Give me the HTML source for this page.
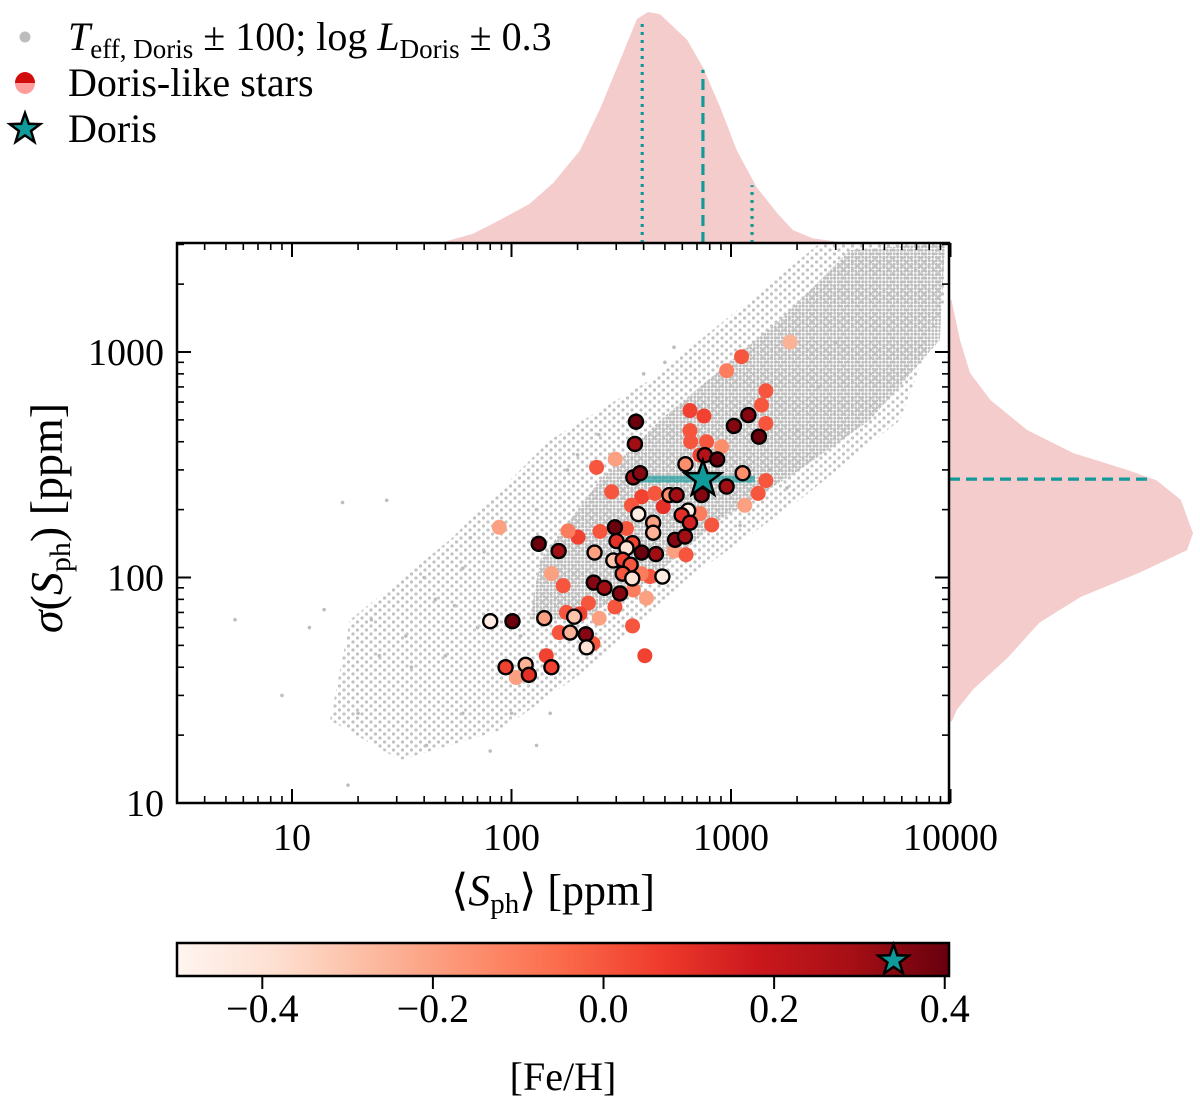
<!DOCTYPE html>
<html><head><meta charset="utf-8"><style>
html,body{margin:0;padding:0;background:#fff;}
svg{display:block;font-family:"Liberation Serif",serif;}
</style></head><body>
<svg id="fig" width="1200" height="1103" viewBox="0 0 1200 1103" xmlns="http://www.w3.org/2000/svg">
<defs>
<pattern id="dense" width="3.5" height="3.5" patternUnits="userSpaceOnUse"><circle cx="1.75" cy="1.75" r="1.45" fill="#bdbdbd"/></pattern>
<pattern id="sparse" width="9" height="8" patternUnits="userSpaceOnUse"><circle cx="2" cy="2" r="1.6" fill="#c2c2c2"/><circle cx="6.5" cy="6" r="1.6" fill="#c2c2c2"/></pattern>
<clipPath id="plotclip"><rect x="177" y="243" width="772" height="560"/></clipPath>
<linearGradient id="cbgrad" x1="0" x2="1" y1="0" y2="0"></linearGradient>
</defs>
</svg>
<script>
// ---- data ----
const likeX = [1117,955,1442,1377,1200,1031,1442,1340,650,753,369,365,650,906,655,774,760,865,620,244,297,359,385,1130,955,735,1442,1330,1156,286,392,450,524,565,352,491,378,638,596,650,817,722,442,442,296,253,334,201,181,88,133,164,239,301,356,334,392,455,556,617,551,624,291,321,349,321,355,427,390,487,152,172,237,265,312,359,412,296,224,251,356,178,205,141,193,165,185,218,220,235,80,101,94,116,152,120,144,405,105,1858,722];
const likeY = [953,826,673,582,525,470,482,421,550,520,491,391,448,380,400,400,349,334,318,308,335,278,290,290,253,232,269,236,209,240,228,236,232,232,209,206,191,198,189,175,171,192,175,158,167,160,165,151,161,167,141,131,129,145,142,135,129,127,147,152,131,126,119,120,114,104,99,101,104,101,104,92,95,90,85,88,81,74,77,66,61,70,69,66,67,57,57,56,49,51,64,64,40,41,40,37,45,45,36,1107,349];
const likeFe = [0.0,-0.1,0.0,0.0,0.35,0.35,0.0,0.4,0.05,0.05,0.4,0.3,0.0,-0.15,0.0,0.0,0.25,0.4,-0.15,0.0,-0.2,0.3,0.35,-0.15,0.3,0.35,0.0,0.0,-0.2,0.0,0.05,0.0,-0.15,0.3,0.0,0.1,-0.45,-0.45,0.1,0.15,0.0,-0.1,-0.2,-0.25,0.4,0.0,0.0,0.05,-0.1,-0.2,0.4,0.3,-0.2,0.1,0.05,-0.4,0.4,0.3,0.35,0.3,-0.2,0.0,-0.3,0.05,0.0,0.0,-0.4,0.0,-0.1,-0.45,-0.2,0.0,0.35,0.3,0.35,-0.1,-0.2,0.0,0.0,-0.2,0.0,0.0,0.05,-0.2,-0.3,0.0,-0.25,0.35,-0.4,0.0,-0.45,0.4,0.05,-0.25,0.05,0.1,0.05,0.05,-0.2,-0.25,0.05];
const likeEdge = [0,0,0,0,1,1,0,1,0,0,1,1,0,0,0,0,1,1,1,0,0,1,1,1,1,1,0,0,0,0,0,0,1,1,0,0,1,1,1,1,0,0,1,1,1,0,0,0,0,0,1,1,1,1,1,1,1,1,1,1,0,0,1,1,1,1,1,0,0,1,0,0,1,1,1,0,0,0,0,0,0,0,0,1,1,0,1,1,1,0,1,1,1,1,1,1,0,0,0,0,0];
const grayX = [5.5,9,12,14,17,20,23,27,33,41,45,60,80,90,130,18,35,50,70,40,60,55,25,100,150,75,110,130,200,250,400,500,550,1500,2000,1800,2500,3000,700,1100,180,65];
const grayY = [65,30,60,72,215,25,65,220,55,18,80,25,17,40,18,12,40,45,60,100,110,75,45,25,25,130,55,200,350,430,800,900,1050,300,450,250,700,1100,180,170,300,150];
const outerEnvX = [18.4,52.5,150,428,1222,2541,9440,9440,5890,2061,722,253,89,31,14.9];
const outerEnvY = [64.9,147,407,752,1702,3040,3040,1702,499,221,108,43,21,15.5,23.3];
const coreEnvX = [135,253,475,891,1671,3483,8950,9440,8950,4300,2061,891,428,205,121];
const coreEnvY = [120,271,499,832,1387,2832,3040,3040,1130,499,300,180,97.6,65,65];
const dorisX = 745, dorisY = 273, dorisFe = 0.34;
const dorisXLo = 385, dorisXHi = 1285;
const topKdeX = [47.2,66.8,88.7,121,155,205,253,312,373,419,475,631,745,891,1064,1312,1622,1914,2366,3141,5888];
const topKdeD = [0,0.04,0.10,0.17,0.26,0.40,0.58,0.79,0.97,1.00,0.99,0.88,0.76,0.59,0.40,0.24,0.13,0.056,0.02,0.004,0];
const topLinesX = [394,745,1247];
const topLinesD = [0.95,0.75,0.25];
const rightKdeY = [1702,1130,807,612,451,356,300,270,221,157,132,105,82,63,44,32,26,23];
const rightKdeD = [0.01,0.045,0.086,0.17,0.32,0.51,0.73,0.85,0.95,1.0,0.975,0.78,0.54,0.37,0.24,0.10,0.033,0.012];
const rightLineY = 273, rightLineD = 0.82;
const xTicks = [10,100,1000,10000];
const xTickLabels = ["10","100","1000","10000"];
const yTicks = [10,100,1000];
const yTickLabels = ["10","100","1000"];
const cbTicks = [-0.4,-0.2,0.0,0.2,0.4];
const cbTickLabels = ["\u22120.4","\u22120.2","0.0","0.2","0.4"];
const feMin = -0.5, feMax = 0.405;

// ---- scales ----
const X0=177,X1=949,Y0=243,Y1=803;
const sx = v => 292 + (Math.log10(v)-1)*219.5;
const sy = v => 803 - (Math.log10(v)-1)*225.5;
const topScale = 231, rightScale = 244;
const CBX0=177, CBX1=949, CBY0=943, CBY1=976;
const cbx = f => CBX0 + (f-feMin)/(feMax-feMin)*(CBX1-CBX0);
const reds = ["#fff5f0","#fee0d2","#fcbba1","#fc9272","#fb6a4a","#ef3b2c","#cb181d","#a50f15","#67000d"];
function hex(c){return [1,3,5].map(i=>parseInt(c.substr(i,2),16));}
function cmap(f){
  let t=Math.max(0,Math.min(1,(f-feMin)/(feMax-feMin)))*(reds.length-1);
  let i=Math.min(Math.floor(t),reds.length-2), u=t-i;
  const a=hex(reds[i]), b=hex(reds[i+1]);
  return "rgb("+a.map((v,k)=>Math.round(v+(b[k]-v)*u)).join(",")+")";
}
const NS="http://www.w3.org/2000/svg";
const svg=document.getElementById("fig");
function mk(tag,attrs,parent){const e=document.createElementNS(NS,tag);for(const k in attrs)e.setAttribute(k,attrs[k]);(parent||svg).appendChild(e);return e;}
function starPath(cx,cy,R){let p="";for(let i=0;i<10;i++){const r=i%2?R*0.4:R;const a=-Math.PI/2+i*Math.PI/5;p+=(i?"L":"M")+(cx+r*Math.cos(a)).toFixed(1)+","+(cy+r*Math.sin(a)).toFixed(1);}return p+"Z";}

const grad=document.getElementById("cbgrad");
reds.forEach((c,i)=>{mk("stop",{offset:(i/(reds.length-1)),"stop-color":c},grad);});

// ---- top KDE ----
let d="M"+sx(topKdeX[0])+","+Y0;
topKdeX.forEach((v,i)=>{d+="L"+sx(v).toFixed(1)+","+(Y0-topKdeD[i]*topScale).toFixed(1);});
d+="L"+sx(topKdeX[topKdeX.length-1])+","+Y0+"Z";
const tk=mk("path",{d:d,fill:"#f4cccc","stroke-linejoin":"round"});


topLinesX.forEach((v,i)=>{
  const l=mk("line",{x1:sx(v),x2:sx(v),y1:Y0,y2:Y0-topLinesD[i]*topScale,stroke:"#129a9a","stroke-width":3.2,"stroke-dasharray":i==1?"11,6":"3,5"});
  
  
});
// ---- right KDE ----
d="M"+X1+","+sy(rightKdeY[0]);
rightKdeY.forEach((v,i)=>{d+="L"+(X1+rightKdeD[i]*rightScale).toFixed(1)+","+sy(v).toFixed(1);});
d+="L"+X1+","+sy(rightKdeY[rightKdeY.length-1])+"Z";
const rk=mk("path",{d:d,fill:"#f4cccc"});


const rl=mk("line",{x1:X1,x2:X1+rightLineD*rightScale,y1:sy(rightLineY),y2:sy(rightLineY),stroke:"#129a9a","stroke-width":3.2,"stroke-dasharray":"11,6"});



// ---- main plot ----
const g=mk("g",{"clip-path":"url(#plotclip)"});


const envPts=(xs,ys)=>xs.map((v,i)=>sx(v).toFixed(1)+","+sy(ys[i]).toFixed(1)).join(" ");
const oe=mk("polygon",{points:envPts(outerEnvX,outerEnvY),fill:"url(#sparse)"},g);


const ce=mk("polygon",{points:envPts(coreEnvX,coreEnvY),fill:"url(#dense)"},g);


grayX.forEach((v,i)=>{
  const c=mk("circle",{cx:sx(v),cy:sy(grayY[i]),r:1.8,fill:"#bdbdbd"},g);
  
  
});
const eb=mk("line",{x1:sx(dorisXLo),x2:sx(dorisXHi),y1:sy(dorisY),y2:sy(dorisY),stroke:"#139a9a","stroke-opacity":0.65,"stroke-width":7},g);


[0,1].forEach(pass=>{
  likeX.forEach((v,i)=>{
    if(likeEdge[i]!==pass) return;
    const a={cx:sx(v),cy:sy(likeY[i]),r:pass?7:7.5,fill:cmap(likeFe[i])};
    if(pass){a.stroke="#000";a["stroke-width"]=2.4;}
    const c=mk("circle",a,g);
    
    
  });
});
const ds=mk("path",{d:starPath(sx(dorisX),sy(dorisY),19),fill:"#119a9a",stroke:"#000","stroke-width":2.5,"stroke-linejoin":"miter"},g);



const fr=mk("rect",{x:X0,y:Y0,width:X1-X0,height:Y1-Y0,fill:"none",stroke:"#000","stroke-width":2.5});


for(let dec=0;dec<5;dec++){
  const base=10**dec;
  for(let m=1;m<=9;m++){
    const v=base*m; if(v<3||v>10000) continue;
    const major=(m===1), L=major?14:7, xx=sx(v);
    [[Y1,Y1-L],[Y0,Y0+L]].forEach(p=>{const t=mk("line",{x1:xx,x2:xx,y1:p[0],y2:p[1],stroke:"#000","stroke-width":major?2:1.6});});
  }
}
xTicks.forEach((v,i)=>{const t=mk("text",{x:sx(v),y:850,"text-anchor":"middle","font-size":38});t.textContent=xTickLabels[i];});
for(let dec=1;dec<4;dec++){
  const base=10**dec;
  for(let m=1;m<=9;m++){
    const v=base*m; if(v>3050) continue;
    const major=(m===1), L=major?14:7, yy=sy(v);
    [[X0,X0+L],[X1,X1-L]].forEach(p=>{const t=mk("line",{x1:p[0],x2:p[1],y1:yy,y2:yy,stroke:"#000","stroke-width":major?2:1.6});});
  }
}
yTicks.forEach((v,i)=>{const t=mk("text",{x:164,y:sy(v)+13,"text-anchor":"end","font-size":38});t.textContent=yTickLabels[i];});

const xt=mk("text",{x:553,y:905,"text-anchor":"middle","font-size":44});
xt.innerHTML='\u27E8<tspan font-style="italic">S</tspan><tspan font-size="29" dy="8">ph</tspan><tspan dy="-8">\u27E9 [ppm]</tspan>';

const yt=mk("text",{x:0,y:0,"text-anchor":"middle","font-size":46,transform:"translate(62,518) rotate(-90)"});
yt.innerHTML='<tspan font-style="italic">\u03C3</tspan>(<tspan font-style="italic">S</tspan><tspan font-size="30" dy="8">ph</tspan><tspan dy="-8">) [ppm]</tspan>';


// ---- colorbar ----
const cb=mk("rect",{x:CBX0,y:CBY0,width:CBX1-CBX0,height:CBY1-CBY0,fill:"url(#cbgrad)",stroke:"#000","stroke-width":2.5});

cbTicks.forEach((f,i)=>{
  const t=mk("line",{x1:cbx(f),x2:cbx(f),y1:CBY1,y2:CBY1+13,stroke:"#000","stroke-width":2});
  
  const l=mk("text",{x:cbx(f),y:1022,"text-anchor":"middle","font-size":40});l.textContent=cbTickLabels[i];
  
});
const cs=mk("path",{d:starPath(cbx(dorisFe),(CBY0+CBY1)/2+1,16),fill:"#119a9a",stroke:"#000","stroke-width":2.5});

const cl=mk("text",{x:563,y:1090,"text-anchor":"middle","font-size":40});cl.textContent="[Fe/H]";


// ---- legend ----
const lg=mk("g",{});

const l1m=mk("circle",{cx:25,cy:37,r:5.5,fill:"#bdbdbd"},lg);

const l1=mk("text",{x:68,y:50,"font-size":40},lg);
l1.innerHTML='<tspan font-style="italic">T</tspan><tspan font-size="27" dy="8">eff, Doris</tspan><tspan dy="-8"> \u00B1 100; log </tspan><tspan font-style="italic">L</tspan><tspan font-size="27" dy="8">Doris</tspan><tspan dy="-8"> \u00B1 0.3</tspan>';

const l2a=mk("path",{d:"M15,83 A10,11 0 0 1 35,83 Z",fill:"#d10c0c"},lg);

const l2b=mk("path",{d:"M15,83 A10,11 0 0 0 35,83 Z",fill:"#ff9d9d"},lg);

const l2=mk("text",{x:68,y:96,"font-size":40},lg);l2.textContent="Doris-like stars";

const l3m=mk("path",{d:starPath(25,129,16),fill:"#119a9a",stroke:"#000","stroke-width":2.5},lg);

const l3=mk("text",{x:68,y:142,"font-size":40},lg);l3.textContent="Doris";

</script>
</body></html>
